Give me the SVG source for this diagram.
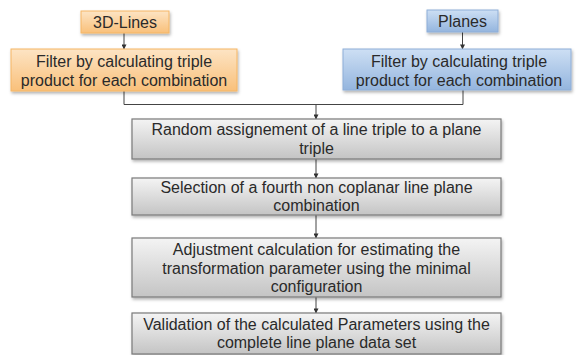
<svg xmlns="http://www.w3.org/2000/svg" width="579" height="355" viewBox="0 0 579 355">
  <defs>
    <linearGradient id="gOrange" x1="0" y1="0" x2="0" y2="1">
      <stop offset="0" stop-color="#fde4c4"/>
      <stop offset="1" stop-color="#f9c07a"/>
    </linearGradient>
    <linearGradient id="gBlue" x1="0" y1="0" x2="0" y2="1">
      <stop offset="0" stop-color="#cddff4"/>
      <stop offset="1" stop-color="#94b5de"/>
    </linearGradient>
    <linearGradient id="gGray" x1="0" y1="0" x2="0" y2="1">
      <stop offset="0" stop-color="#f4f4f4"/>
      <stop offset="1" stop-color="#c4c4c4"/>
    </linearGradient>
    <filter id="shadow" x="-10%" y="-20%" width="120%" height="150%">
      <feDropShadow dx="1" dy="2" stdDeviation="1.5" flood-color="#000" flood-opacity="0.3"/>
    </filter>
    <marker id="arrow" viewBox="0 0 6 6" refX="5.5" refY="3" markerWidth="5" markerHeight="5" orient="auto" markerUnits="userSpaceOnUse">
      <path d="M0 0 L6 3 L0 6 z" fill="#333"/>
    </marker>
  </defs>
  <style>
    text { font-family: "Liberation Sans", Arial, sans-serif; font-size: 16px; fill: #2a2a2a; text-anchor: middle; }
    .orange { fill: url(#gOrange); stroke: #f5b664; stroke-width: 1; filter: url(#shadow); }
    .blue { fill: url(#gBlue); stroke: #8eaed8; stroke-width: 1; filter: url(#shadow); }
    .gray { fill: url(#gGray); stroke: #7a7a7a; stroke-width: 1.2; filter: url(#shadow); }
    .link { fill: none; stroke: #444; stroke-width: 1; }
  </style>

  <!-- connectors -->
  <g id="connectors">
    <path class="link" d="M124 33 V49" marker-end="url(#arrow)"/>
    <path class="link" d="M462.5 32 V49" marker-end="url(#arrow)"/>
    <path class="link" d="M124 91 V104.5 H463 V90"/>
    <path class="link" d="M316 104.5 V119" marker-end="url(#arrow)"/>
    <path class="link" d="M316 159 V178" marker-end="url(#arrow)"/>
    <path class="link" d="M316 215 V238" marker-end="url(#arrow)"/>
    <path class="link" d="M316 297 V313" marker-end="url(#arrow)"/>
  </g>

  <g id="lines3d">
    <rect class="orange" x="81" y="11" width="88" height="22"/>
    <text x="125" y="28">3D-Lines</text>
  </g>

  <g id="filterLines">
    <rect class="orange" x="11" y="49" width="226" height="42"/>
    <text x="124" y="67">Filter by calculating triple</text>
    <text x="124" y="86">product for each combination</text>
  </g>

  <g id="planes">
    <rect class="blue" x="427" y="10" width="71" height="22"/>
    <text x="462.5" y="27">Planes</text>
  </g>

  <g id="filterPlanes">
    <rect class="blue" x="343" y="49" width="228" height="41"/>
    <text x="459" y="67">Filter by calculating triple</text>
    <text x="459" y="86">product for each combination</text>
  </g>

  <g id="assignment">
    <rect class="gray" x="132" y="119" width="369" height="40"/>
    <text x="316.5" y="135">Random assignement of a line triple to a plane</text>
    <text x="316.5" y="154">triple</text>
  </g>

  <g id="selection">
    <rect class="gray" x="132" y="178" width="369" height="37"/>
    <text x="316.5" y="193">Selection of a fourth non coplanar line plane</text>
    <text x="316.5" y="211">combination</text>
  </g>

  <g id="adjustment">
    <rect class="gray" x="132" y="238" width="369" height="59"/>
    <text x="316.5" y="255">Adjustment calculation for estimating the</text>
    <text x="316.5" y="274">transformation parameter using the minimal</text>
    <text x="316.5" y="292">configuration</text>
  </g>

  <g id="validation">
    <rect class="gray" x="132" y="313" width="369" height="41"/>
    <text x="316.5" y="330">Validation of the calculated Parameters using the</text>
    <text x="316.5" y="348">complete line plane data set</text>
  </g>
</svg>
